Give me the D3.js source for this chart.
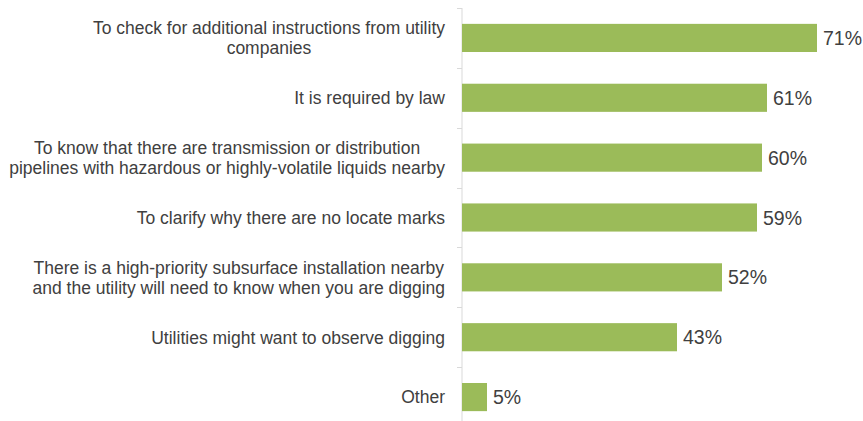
<!DOCTYPE html>
<html>
  <head>
    <script src="https://cdn.jsdelivr.net/npm/d3@7"></script>
    <style>
      body { margin: 0; background: #fff; }
      text { font-family: "Liberation Sans", Arial, sans-serif; }
    </style>
  </head>
  <body>
    <div id="container"></div>
    <script>
      // category labels, already split into display lines
      const categories = [
        ["To check for additional instructions from utility", "companies"],
        ["It is required by law"],
        ["To know that there are transmission or distribution", "pipelines with hazardous or highly-volatile liquids nearby"],
        ["To clarify why there are no locate marks"],
        ["There is a high-priority subsurface installation nearby", "and the utility will need to know when you are digging"],
        ["Utilities might want to observe digging"],
        ["Other"],
      ];
      const values = [71, 61, 60, 59, 52, 43, 5];

      const w = 863;
      const h = 421;
      const axisX = 462;

      const svg = d3
        .select("#container")
        .append("svg")
        .attr("width", w)
        .attr("height", h);

      const ids = categories.map((c, i) => i);

      const y = d3.scaleBand().domain(ids).range([8, 427]).paddingInner(0.53).paddingOuter(0.265);
      const x = d3.scaleLinear().domain([0, 80]).range([axisX, axisX + 400]);

      // axis line + ticks between categories
      svg
        .append("line")
        .attr("x1", axisX)
        .attr("x2", axisX)
        .attr("y1", y.range()[0])
        .attr("y2", y.range()[1])
        .attr("stroke", "#d9d9d9")
        .attr("stroke-width", 1);

      const step = y.step();
      const tickYs = d3.range(categories.length + 1).map((i) => y.range()[0] + i * step);
      svg
        .selectAll(".tick")
        .data(tickYs)
        .enter()
        .append("line")
        .attr("class", "tick")
        .attr("x1", axisX - 5)
        .attr("x2", axisX)
        .attr("y1", (d) => Math.round(d) + 0.5)
        .attr("y2", (d) => Math.round(d) + 0.5)
        .attr("stroke", "#d9d9d9");

      svg
        .selectAll(".bar")
        .data(values)
        .enter()
        .append("rect")
        .attr("class", "bar")
        .attr("x", x(0))
        .attr("y", (d, i) => y(i))
        .attr("width", (d) => x(d) - x(0))
        .attr("height", y.bandwidth())
        .attr("fill", "#9bbb59");

      svg
        .selectAll(".value")
        .data(values)
        .enter()
        .append("text")
        .attr("class", "value")
        .attr("x", (d) => x(d) + 6)
        .attr("y", (d, i) => y(i) + y.bandwidth() / 2)
        .attr("dy", "0.36em")
        .attr("font-size", 19.5)
        .attr("fill", "#404040")
        .text((d) => d + "%");

      // category labels: block right aligned, lines centred on each other
      const lineH = 20;
      const labelRight = 445;
      categories.forEach((lines, i) => {
        const g = svg.append("g");
        const cy = y(i) + y.bandwidth() / 2;
        const t = lines.map((line, j) =>
          g
            .append("text")
            .attr("y", cy - ((lines.length - 1) * lineH) / 2 + j * lineH)
            .attr("dy", "0.36em")
            .attr("font-size", 17.5)
            .attr("fill", "#404040")
            .attr("text-anchor", "middle")
            .text(line)
        );
        const maxW = d3.max(t, (s) => s.node().getComputedTextLength());
        t.forEach((s) => s.attr("x", labelRight - maxW / 2));
      });
    </script>
  </body>
</html>
